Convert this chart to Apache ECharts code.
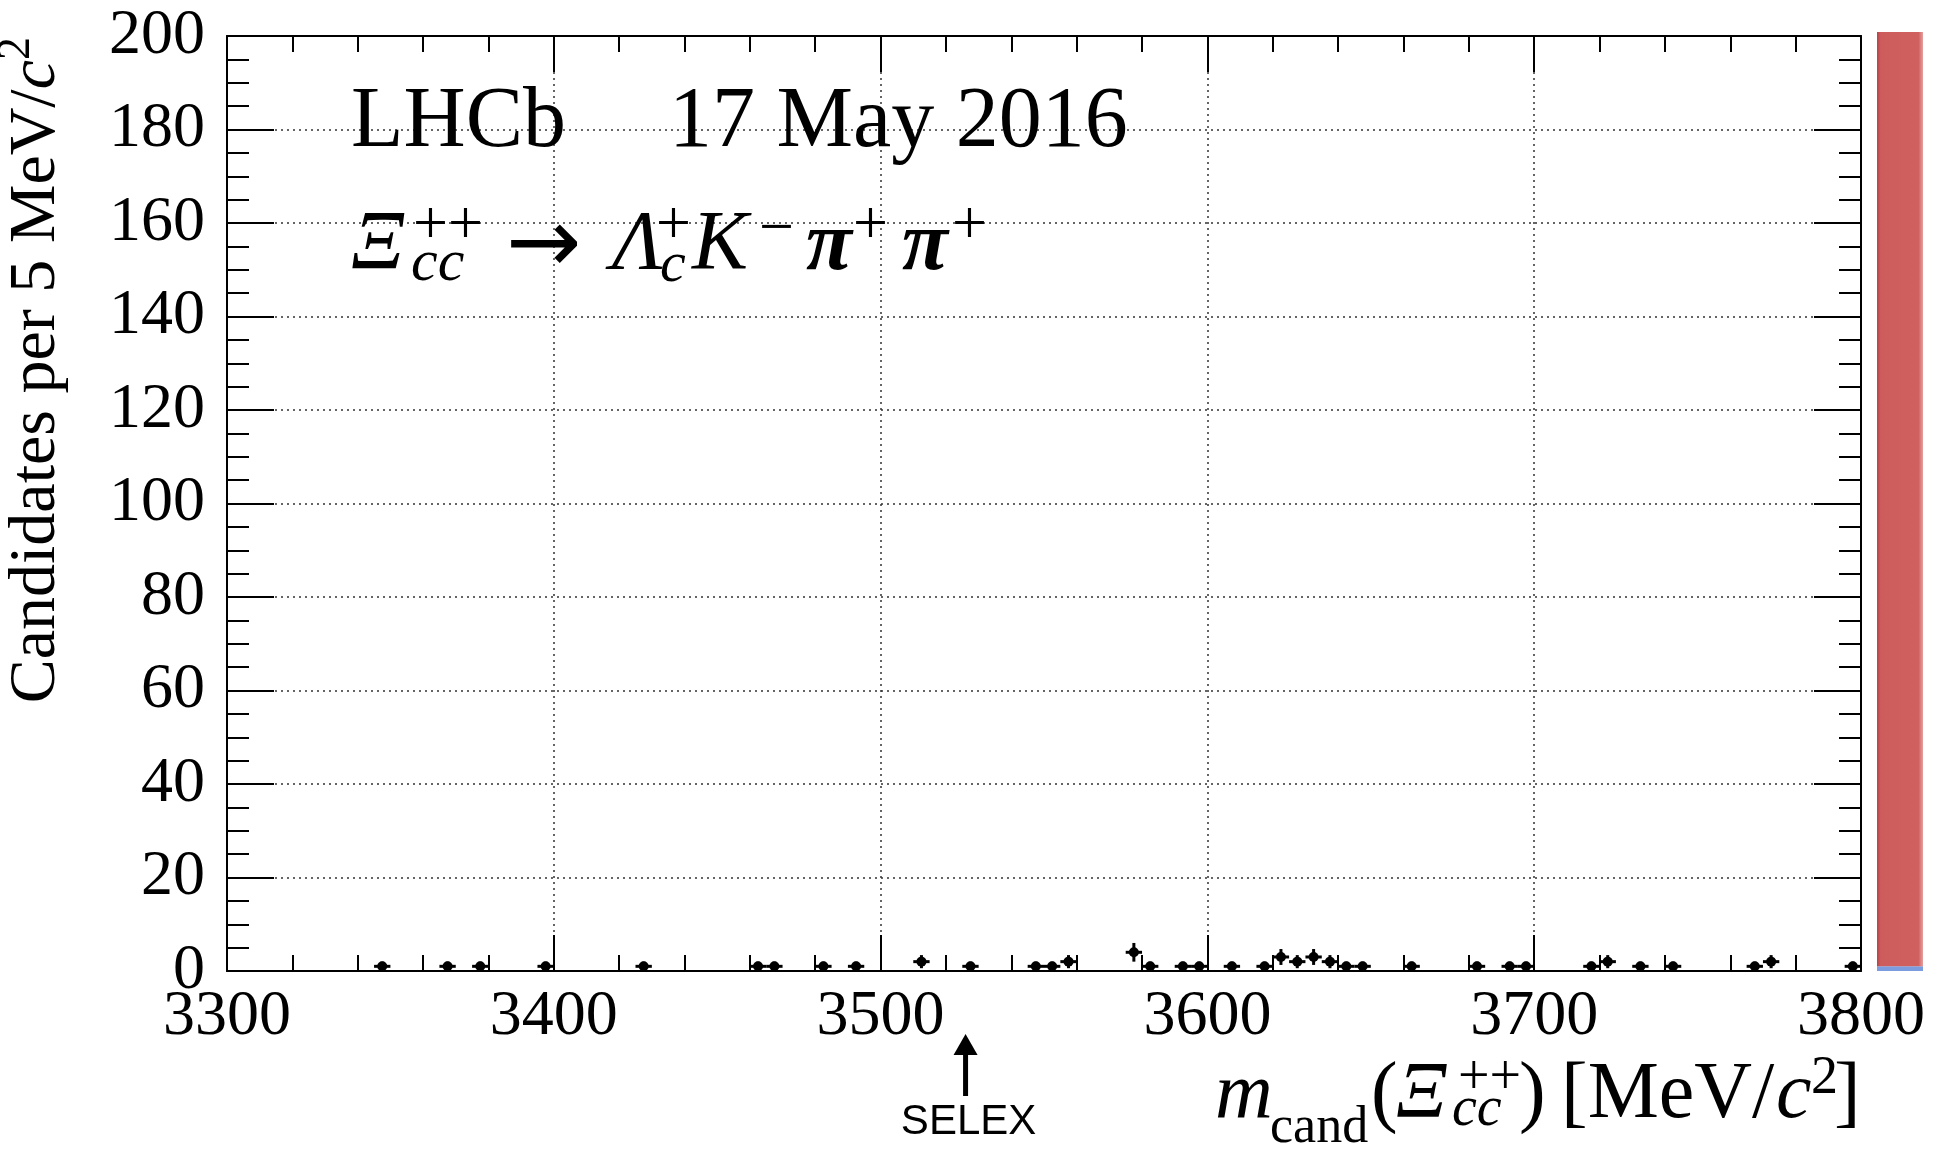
<!DOCTYPE html>
<html>
<head>
<meta charset="utf-8">
<script src="https://cdn.jsdelivr.net/npm/echarts@6/dist/echarts.min.js"></script>
<style>
html, body { margin: 0; padding: 0; background: #fff; }
#main { width: 1944px; height: 1152px; }
</style>
</head>
<body>
<div id="main"></div>
<script>
// non-empty 5 MeV bins of the mass histogram
var binCentres = [3347.5, 3367.5, 3377.5, 3397.5, 3427.5, 3462.5, 3467.5, 3482.5, 3492.5,
  3512.5, 3527.5, 3547.5, 3552.5, 3557.5, 3577.5, 3582.5, 3592.5, 3597.5, 3607.5, 3617.5,
  3622.5, 3627.5, 3632.5, 3637.5, 3642.5, 3647.5, 3662.5, 3682.5, 3692.5, 3697.5, 3717.5,
  3722.5, 3732.5, 3742.5, 3767.5, 3772.5, 3797.5];
var counts = [1, 1, 1, 1, 1, 1, 1, 1, 1,
  2, 1, 1, 1, 2, 4, 1, 1, 1, 1, 1,
  3, 2, 3, 2, 1, 1, 1, 1, 1, 1, 1,
  2, 1, 1, 1, 2, 1];
var countErrors = [1, 1, 1, 1, 1, 1, 1, 1, 1,
  1.4, 1, 1, 1, 1.4, 2, 1, 1, 1, 1, 1,
  1.7, 1.4, 1.7, 1.4, 1, 1, 1, 1, 1, 1, 1,
  1.4, 1, 1, 1, 1.4, 1];
var binHalfWidth = 2.5;
var selexMass = 3526;
var sideBarParts = [1, 199]; // blue / red part of the bar on the right

var SERIF = '"Liberation Serif", "Times New Roman", serif';
var SANS = '"Liberation Sans", Arial, sans-serif';

var chart = echarts.init(document.getElementById('main'));

var pts = binCentres.map(function (m, i) { return [m, counts[i], countErrors[i]]; });

var black = { color: '#000', width: 2 };
var dotted = { color: '#333', width: 1.5, type: [2, 4] };
var plain = function (v) { return String(v); };

function xAx(pos, labels) {
  return {
    gridIndex: 0, type: 'value', min: 3300, max: 3800, interval: 100, position: pos,
    axisLine: { onZero: false, lineStyle: black },
    axisTick: { inside: true, length: 36, lineStyle: black },
    minorTick: { show: true, splitNumber: 5, length: 16, lineStyle: black },
    splitLine: { show: labels, lineStyle: dotted },
    axisLabel: { show: labels, formatter: plain, fontFamily: SERIF, fontSize: 64, color: '#000', margin: 14 }
  };
}
function yAx(pos, labels) {
  return {
    gridIndex: 0, type: 'value', min: 0, max: 200, interval: 20, position: pos,
    axisLine: { onZero: false, lineStyle: black },
    axisTick: { inside: true, length: 47, lineStyle: black },
    minorTick: { show: true, splitNumber: 4, length: 22, lineStyle: black },
    splitLine: { show: labels, lineStyle: dotted },
    axisLabel: { show: labels, formatter: plain, fontFamily: SERIF, fontSize: 64, color: '#000', margin: 22 }
  };
}

chart.setOption({
  animation: false,
  backgroundColor: '#fff',
  grid: [
    { left: 227, right: 83, top: 36, bottom: 181 },
    { left: 1877, width: 46, top: 32, bottom: 181 }
  ],
  xAxis: [xAx('bottom', true), xAx('top', false),
    { gridIndex: 1, type: 'category', data: [''], show: false }],
  yAxis: [yAx('left', true), yAx('right', false),
    { gridIndex: 1, type: 'value', min: 0, max: 200, show: false }],
  series: [
    {
      type: 'custom', xAxisIndex: 0, yAxisIndex: 0, data: pts,
      renderItem: function (params, api) {
        var m = api.value(0), n = api.value(1), e = api.value(2);
        var c = api.coord([m, n]);
        var l = api.coord([m - binHalfWidth, n]), r = api.coord([m + binHalfWidth, n]);
        var t = api.coord([m, n + e]), b = api.coord([m, n - e]);
        var st = { stroke: '#000', lineWidth: 3 };
        return { type: 'group', children: [
          { type: 'line', shape: { x1: l[0], y1: c[1], x2: r[0], y2: c[1] }, style: st },
          { type: 'line', shape: { x1: c[0], y1: t[1], x2: c[0], y2: b[1] }, style: st },
          { type: 'circle', shape: { cx: c[0], cy: c[1], r: 5 }, style: { fill: '#000' } }
        ] };
      }
    },
    {
      type: 'bar', xAxisIndex: 2, yAxisIndex: 2, stack: 'side', barWidth: '100%',
      data: [sideBarParts[0]], itemStyle: { color: '#7b9de0' }
    },
    {
      type: 'bar', xAxisIndex: 2, yAxisIndex: 2, stack: 'side', barWidth: '100%',
      data: [sideBarParts[1]],
      itemStyle: { color: new echarts.graphic.LinearGradient(0, 0, 1, 0, [
        { offset: 0, color: '#b84444' }, { offset: 0.08, color: '#cd5c5c' },
        { offset: 0.9, color: '#d06060' }, { offset: 1, color: '#e6a0a0' }]) }
    }
  ]
});

// text pieces placed one by one (sub/superscripts)
function txt(p) {
  return {
    type: 'text', x: p.x, y: p.y,
    style: { text: p.s, fontFamily: p.fam || SERIF, fontSize: p.f, fontStyle: p.it ? 'italic' : 'normal',
      fontWeight: p.b ? 'bold' : 'normal', fill: '#000', align: 'left', verticalAlign: 'middle' }
  };
}
// flow layout, used for the rotated y title
var mctx = document.createElement('canvas').getContext('2d');
function flow(pieces, x0, base, align) {
  var xs = [], cur = 0;
  pieces.forEach(function (p) {
    mctx.font = (p.it ? 'italic ' : '') + p.f + 'px ' + SERIF;
    xs.push(cur);
    cur += mctx.measureText(p.s).width;
  });
  var shift = align === 'right' ? -cur : 0;
  return pieces.map(function (p, i) {
    return txt({ s: p.s, f: p.f, it: p.it, x: x0 + xs[i] + shift, y: base - (p.dy || 0) - 0.33 * p.f });
  });
}

var header = [
  { s: 'LHCb', x: 351, y: 123, f: 86 },
  { s: '17 May 2016', x: 669, y: 123, f: 86 }
];
var decay = [
  { s: 'Ξ', x: 351, y: 247, f: 84, it: 1 },
  { s: 'cc', x: 411, y: 264, f: 60, it: 1 },
  { s: '++', x: 413, y: 227, f: 62 },
  { s: '→', x: 506, y: 249, f: 90, fam: '"DejaVu Sans"' },
  { s: 'Λ', x: 612, y: 247, f: 84, it: 1 },
  { s: 'c', x: 660, y: 266, f: 58, it: 1 },
  { s: '+', x: 656, y: 227, f: 62 },
  { s: 'K', x: 692, y: 247, f: 84, it: 1 },
  { s: '−', x: 759, y: 231, f: 62 },
  { s: 'π', x: 806, y: 247, f: 84, it: 1, b: 1 },
  { s: '+', x: 853, y: 227, f: 62 },
  { s: 'π', x: 902, y: 247, f: 84, it: 1, b: 1 },
  { s: '+', x: 952, y: 227, f: 62 }
];
var xTitle = [
  { s: 'm', x: 1215, y: 1096, f: 80, it: 1 },
  { s: 'cand', x: 1270, y: 1128, f: 52 },
  { s: '(', x: 1371, y: 1096, f: 80 },
  { s: 'Ξ', x: 1396, y: 1096, f: 80, it: 1 },
  { s: 'cc', x: 1452, y: 1110, f: 56, it: 1 },
  { s: '++', x: 1458, y: 1079, f: 56 },
  { s: ')', x: 1519, y: 1096, f: 80 },
  { s: '[MeV/', x: 1561, y: 1096, f: 80 },
  { s: 'c', x: 1776, y: 1096, f: 80, it: 1 },
  { s: '2', x: 1811, y: 1079, f: 54 },
  { s: ']', x: 1834, y: 1096, f: 80 }
];
var yTitle = [
  { s: 'Candidates per 5 MeV/', f: 66 }, { s: 'c', f: 66, it: 1 }, { s: '2', f: 46, dy: 26 }
];

var ax = chart.convertToPixel({ xAxisIndex: 0 }, selexMass);

var graphics = header.concat(decay, xTitle).map(txt).concat([
  { type: 'group', x: 0, y: 37, rotation: Math.PI / 2, children: flow(yTitle, 0, 58, 'right') },
  { type: 'polygon', shape: { points: [[ax, 1034], [ax - 12, 1055], [ax + 12, 1055]] }, style: { fill: '#000' } },
  { type: 'rect', shape: { x: ax - 2.5, y: 1050, width: 5, height: 46 }, style: { fill: '#000' } },
  { type: 'text', x: ax + 3, y: 1122, style: { text: 'SELEX', fontFamily: SANS, fontSize: 42,
    fill: '#000', align: 'center', verticalAlign: 'middle' } }
]);

chart.setOption({ graphic: graphics });
</script>
</body>
</html>
